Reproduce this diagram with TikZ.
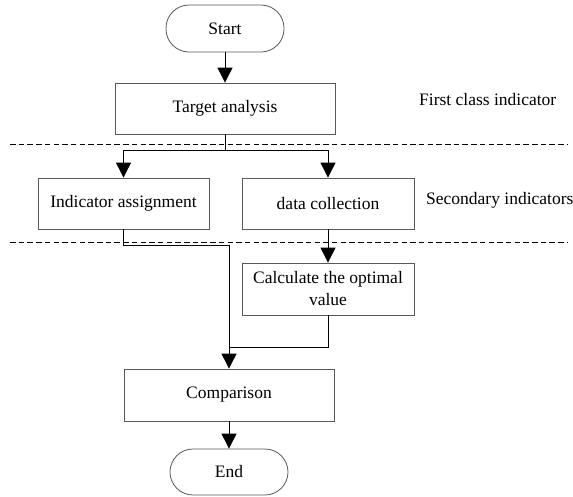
\documentclass[tikz,border=0pt]{standalone}
\usepackage{fontspec}
\setmainfont{Liberation Serif}
\usetikzlibrary{arrows.meta}

\begin{document}
\begin{tikzpicture}[x=1pt,y=-1pt,font=\fontsize{17.5}{22}\selectfont,
    box/.style={draw=black!65,line width=0.8pt,inner sep=0pt,minimum height=51pt,align=center},
    term/.style={box,rounded corners=23pt,minimum width=118pt,minimum height=47pt},
    arr/.style={line width=0.9pt,-{Triangle[length=15pt,width=15pt]}},
    sep/.style={line width=1pt,dash pattern=on 5.5pt off 3.2pt}]
  \useasboundingbox (0,0) rectangle (573,496);
  \node[term] (start) at (225,28.5) {Start};
  \node[box,minimum width=220pt] (target) at (225,108.5) {Target analysis};
  \node[box,minimum width=171pt] (assign) at (123.5,203.5) {Indicator assignment};
  \node[box,minimum width=172pt] (collect) at (328,203.5) {data collection};
  \node[box,minimum width=172pt,minimum height=52pt] (calc) at (328,289) {Calculate the optimal\\value};
  \node[box,minimum width=210pt,minimum height=52pt] (comp) at (229,395) {Comparison};
  \node[term,minimum height=46pt] (end) at (229,472) {End};
  \node[anchor=west,inner sep=0pt] (level1) at (419,100) {First class indicator};
  \node[anchor=west,inner sep=0pt] (level2) at (426,200) {Secondary indicators};
  \draw[sep] (10,144) -- (567,144);
  \draw[sep] (10,242) -- (567,242);
  \coordinate (join) at (229,347);
  \draw[arr] (start) -- (target);
  \draw[arr] (target.south) -- ++(0,16) -| (assign.north);
  \draw[arr] (target.south) -- ++(0,16) -| (collect.north);
  \draw[arr] (collect) -- (calc);
  \draw[arr] (assign.south) -- ++(0,16) -| (comp.north);
  \draw[line width=0.9pt] (calc.south) |- (join);
  \draw[arr] (comp) -- (end);
\end{tikzpicture}
\end{document}
